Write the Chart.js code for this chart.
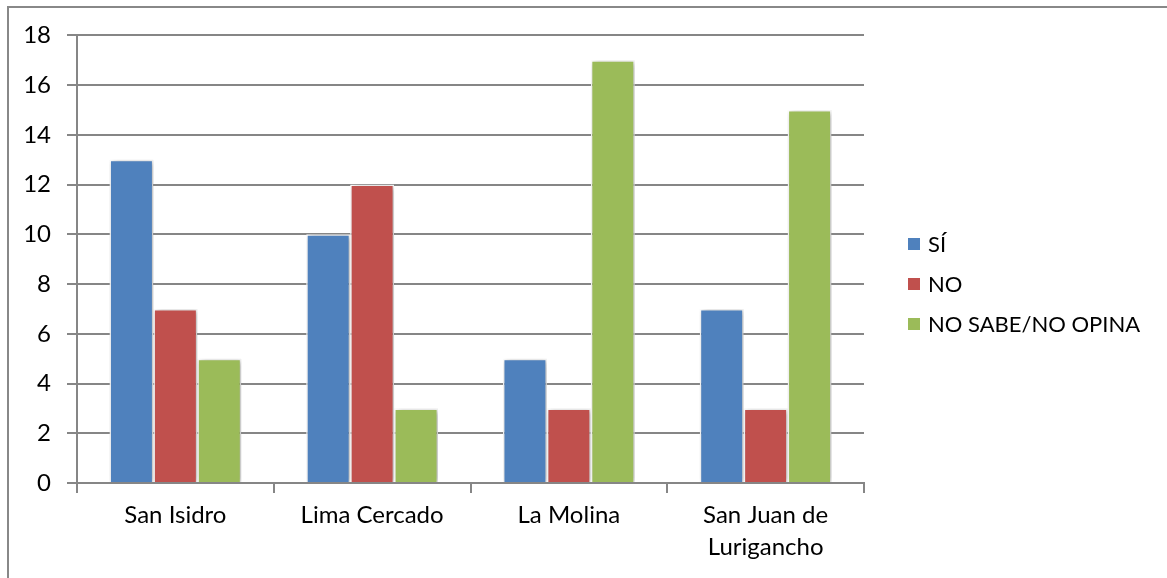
<!DOCTYPE html>
<html>
<head>
<meta charset="utf-8">
<script src="https://cdn.jsdelivr.net/npm/chart.js@4.4.1/dist/chart.umd.min.js"></script>
<style>
  html, body { margin: 0; padding: 0; background: #fff; overflow: hidden; }
  #frame {
    position: absolute; left: 0; top: 0; width: 1167px; height: 578px;
  }
  #chart { position: absolute; left: 0; top: 5px; }
  #border {
    position: absolute; left: 7px; top: 6px; width: 1170px; height: 600px;
    border-left: 2px solid #888; border-top: 2px solid #888;
    box-sizing: border-box; pointer-events: none;
  }
</style>
</head>
<body>
<div id="frame">
  <canvas id="chart" width="1167" height="573"></canvas>
  <div id="border"></div>
</div>
<script>
// ---- data ----
const categories = ['San Isidro', 'Lima Cercado', 'La Molina', ['San Juan de', 'Lurigancho']];
const seriesNames = ['SÍ', 'NO', 'NO SABE/NO OPINA'];
const siValues = [13, 10, 5, 7];
const noValues = [7, 12, 3, 3];
const nsnoValues = [5, 3, 17, 15];
const yTicks = [0, 2, 4, 6, 8, 10, 12, 14, 16, 18];

const colors = ['#4F81BD', '#C0504D', '#9BBB59'];
const FONT = 'Lato, "Open Sans", sans-serif';
const gridColor = '#868686';

// soft shadow behind bars (Excel style)
const barShadow = {
  id: 'barShadow',
  beforeDatasetsDraw(chart) {
    const ctx = chart.ctx;
    ctx.save();
    ctx.shadowColor = 'rgba(0,0,0,0.3)';
    ctx.shadowBlur = 6;
    ctx.shadowOffsetX = 2;
    ctx.shadowOffsetY = 1;
  },
  afterDatasetsDraw(chart) {
    chart.ctx.restore();
  }
};

// legend drawn at the right, like the original (canvas is shifted 5px down)
const sideLegend = {
  id: 'sideLegend',
  afterDraw(chart) {
    const ctx = chart.ctx;
    const x = 908, ys = [239, 279, 319];
    ctx.save();
    ctx.font = '22px ' + FONT;
    ctx.textBaseline = 'middle';
    chart.data.datasets.forEach((ds, i) => {
      ctx.fillStyle = ds.backgroundColor;
      ctx.fillRect(x, ys[i] - 6, 12, 12);
      ctx.fillStyle = '#000';
      ctx.fillText(ds.label, x + 20, ys[i] + 1);
    });
    ctx.restore();
  }
};

const values = [siValues, noValues, nsnoValues];

new Chart(document.getElementById('chart'), {
  type: 'bar',
  data: {
    labels: categories,
    datasets: seriesNames.map((name, i) => ({
      label: name,
      data: values[i],
      backgroundColor: colors[i],
      borderColor: '#fff',
      borderWidth: 1.5,
      categoryPercentage: 0.67,
      barPercentage: 1
    }))
  },
  options: {
    responsive: false,
    animation: false,
    layout: { padding: { left: 0, right: 303, top: 30, bottom: 0 } },
    plugins: { legend: { display: false }, tooltip: { enabled: false } },
    scales: {
      x: {
        afterFit: s => { s.height = 95; },
        grid: { drawOnChartArea: false, drawTicks: true, tickLength: 10, color: gridColor, lineWidth: 2, offset: true },
        border: { color: gridColor, width: 2 },
        ticks: { color: '#000', padding: 7, font: { family: FONT, size: 24, lineHeight: 1.3 }, maxRotation: 0 }
      },
      y: {
        min: 0, max: 18,
        afterFit: s => { s.width = 77; },
        afterBuildTicks: s => { s.ticks = yTicks.map(v => ({ value: v })); },
        grid: { color: gridColor, lineWidth: 2, tickLength: 10 },
        border: { color: gridColor, width: 2 },
        ticks: { color: '#000', padding: 16, font: { family: FONT, size: 24 } }
      }
    }
  },
  plugins: [barShadow, sideLegend]
});
</script>
</body>
</html>
